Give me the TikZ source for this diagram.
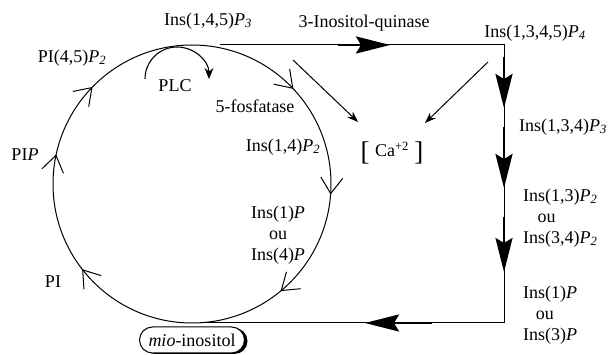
\documentclass[tikz,border=0pt]{standalone}
\usepackage{fontspec}
\setmainfont{Liberation Serif}
\usetikzlibrary{arrows.meta,decorations.markings,shapes.misc,shadows}
\newcommand{\Pn}[1]{\textit{P}\textsubscript{\textit{#1}}}
\begin{document}
\begin{tikzpicture}[x=1pt,y=-1pt,
  lbl/.style={inner sep=0pt, font=\fontsize{18}{21}\selectfont},
  thinln/.style={line width=1pt},
  bigarrow/.style={line width=2.8pt, -{Stealth[length=34pt,width=17pt,inset=5pt]}},
  smallarrow/.style={line width=1pt, -{Stealth[length=11pt,width=8pt]}},
  vmark/.style={decoration={markings, mark=at position #1 with {\draw[line width=1pt] (-16pt,11pt) -- (0pt,0pt) -- (-16pt,-11pt);}}},
]
\useasboundingbox (0,0) rectangle (608,355);
% cycle circle
\coordinate (c) at (192,184);
\draw[thinln,
  postaction={decorate, vmark=0.144},
  postaction={decorate, vmark=0.283},
  postaction={decorate, vmark=0.372},
  postaction={decorate, vmark=0.629},
  postaction={decorate, vmark=0.761},
  postaction={decorate, vmark=0.889}]
  (c) ++(90:139) arc[start angle=90, end angle=450, radius=139];
% outer rectangle path
\coordinate (tl) at (220,45);
\coordinate (tr) at (504,45);
\coordinate (br) at (504,323);
\coordinate (bl) at (200,323);
\draw[thinln] (tl) -- (tr) -- (br) -- (bl);
% big arrows
\coordinate (h1s) at (338,45); \coordinate (h1e) at (390,45);
\coordinate (v1s) at (504,57); \coordinate (v1e) at (504,108);
\coordinate (v2s) at (504,127); \coordinate (v2e) at (504,188);
\coordinate (v3s) at (504,217); \coordinate (v3e) at (504,272);
\coordinate (b1s) at (432,323); \coordinate (b1e) at (365,323);
\draw[bigarrow] (h1s) -- (h1e);
\draw[bigarrow] (v1s) -- (v1e);
\draw[bigarrow] (v2s) -- (v2e);
\draw[bigarrow] (v3s) -- (v3e);
\draw[bigarrow] (b1s) -- (b1e);
% PLC arc
\coordinate (plcc) at (177,79);
\draw[line width=1.1pt, -{Stealth[length=11pt,width=9pt]}] (plcc) ++(180:32) arc[start angle=180, end angle=360, radius=32];
% labels
\node[lbl] (ins145) at (208,21) {Ins(1,4,5)\Pn{3}};
\node[lbl] (quin) at (364,23) {3-Inositol-quinase};
\node[lbl] (ins1345) at (535,33) {Ins(1,3,4,5)\Pn{4}};
\node[lbl] (pi45) at (72,58) {PI(4,5)\Pn{2}};
\node[lbl] (plc) at (175,86) {PLC};
\node[lbl] (fosf) at (255,106) {5-fosfatase};
\node[lbl] (ins14) at (283,147) {Ins(1,4)\Pn{2}};
\node[lbl] (pip) at (25,155) {PI\textit{P}};
\node[lbl, align=center] (ins1or4) at (278,235) {Ins(1)\textit{P}\\ou\\Ins(4)\textit{P}};
\node[lbl] (pi) at (53,282) {PI};
\node[lbl] (ins134) at (563,127) {Ins(1,3,4)\Pn{3}};
\node[lbl, align=left, anchor=west] (ins13) at (523,218) {Ins(1,3)\Pn{2}\\\hspace*{0.8em}ou\\Ins(3,4)\Pn{2}};
\node[lbl, align=left, anchor=west] (ins1or3) at (523,315) {Ins(1)\textit{P}\\\hspace*{0.7em}ou\\Ins(3)\textit{P}};
\node[lbl] (ca) at (392,153) {\raisebox{-0.22em}{\fontsize{27}{27}\selectfont[}\hspace{0.3em}Ca\textsuperscript{+2}\hspace{0.3em}\raisebox{-0.22em}{\fontsize{27}{27}\selectfont]}};
\node[lbl, draw, thinln, rounded rectangle, minimum width=105pt, minimum height=26pt, fill=white,
  drop shadow={shadow xshift=3pt, shadow yshift=-1pt, fill=black, opacity=1}] (mio) at (192,340) {\textit{mio}-inositol};
% arrows to calcium
\coordinate (ca1s) at (293,60); \coordinate (ca1e) at (358,122);
\coordinate (ca2s) at (488,62); \coordinate (ca2e) at (425,123);
\draw[smallarrow] (ca1s) -- (ca1e);
\draw[smallarrow] (ca2s) -- (ca2e);
\end{tikzpicture}
\end{document}
